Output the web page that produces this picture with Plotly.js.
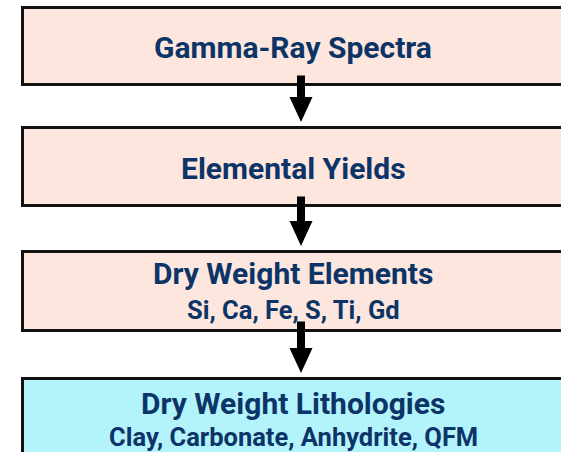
<!DOCTYPE html>
<html>
<head>
<meta charset="utf-8">
<script src="https://cdn.plot.ly/plotly-3.0.1.min.js"></script>
<style>html,body{margin:0;padding:0;background:#fff;}#chart{width:561px;height:452px;}</style>
</head>
<body>
<div id="chart"></div>
<script>
// Flow stages (content)
const stages = ["Gamma-Ray Spectra", "Elemental Yields", "Dry Weight Elements", "Dry Weight Lithologies"];
const details = ["", "", "Si, Ca, Fe, S, Ti, Gd", "Clay, Carbonate, Anhydrite, QFM"];

// Layout (pixel positions, styles)
const boxLeft = 22.5, boxRight = 564;
const boxTop = [7.5, 127.5, 251.5, 378.5];
const boxBottom = [84.5, 205.5, 330.5, 480];
const boxFill = ["#fce6de", "#fce6de", "#fce6de", "#b3f3fc"];
const titleY = [47, 168, 273.5, 403.5];
const detailY = [null, null, 309.5, 437];
const textX = 293;
const arrowX = 301, shaftHalf = 4, headHalf = 11.5, headLen = 25;
const navy = "#0c3467";
const fontFam = "Roboto, 'Liberation Sans', sans-serif";

const shapes = [];
stages.forEach((s, i) => {
  shapes.push({type: "rect", xref: "x", yref: "y", x0: boxLeft, x1: boxRight, y0: boxTop[i], y1: boxBottom[i],
    fillcolor: boxFill[i], line: {color: "#111", width: 3}, layer: "above"});
});
for (let i = 0; i < stages.length - 1; i++) {
  const top = boxBottom[i] - 9;
  const tip = boxTop[i + 1] - 5.5;
  const base = tip - headLen;
  shapes.push({type: "path", xref: "x", yref: "y",
    path: `M ${arrowX - shaftHalf} ${top} L ${arrowX + shaftHalf} ${top} L ${arrowX + shaftHalf} ${base} L ${arrowX + headHalf} ${base} L ${arrowX} ${tip} L ${arrowX - headHalf} ${base} L ${arrowX - shaftHalf} ${base} Z`,
    fillcolor: "#000", line: {color: "#000", width: 0}, layer: "above"});
}

const annotations = [];
stages.forEach((s, i) => {
  annotations.push({x: textX, y: titleY[i], xref: "x", yref: "y", text: s, showarrow: false,
    xanchor: "center", yanchor: "middle", font: {family: fontFam, size: 30, weight: 700, color: navy}});
  if (details[i]) {
    annotations.push({x: textX, y: detailY[i], xref: "x", yref: "y", text: details[i], showarrow: false,
      xanchor: "center", yanchor: "middle", font: {family: fontFam, size: 25.5, weight: 700, color: navy}});
  }
});

const layout = {
  width: 561, height: 452,
  margin: {l: 0, r: 0, t: 0, b: 0},
  paper_bgcolor: "#fff", plot_bgcolor: "#fff",
  xaxis: {range: [0, 561], visible: false, fixedrange: true},
  yaxis: {range: [452, 0], visible: false, fixedrange: true},
  showlegend: false,
  shapes: shapes,
  annotations: annotations
};

Plotly.newPlot("chart", [], layout, {staticPlot: true, displayModeBar: false});
</script>
</body>
</html>
